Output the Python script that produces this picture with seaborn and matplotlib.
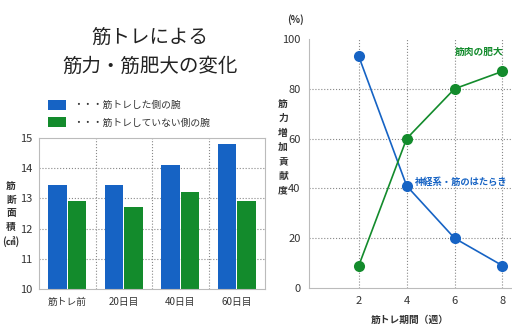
import matplotlib
matplotlib.use("Agg")
import matplotlib.pyplot as plt
import seaborn as sns
import pandas as pd

# ---- data ----
bar_categories = ["筋トレ前", "20日目", "40日目", "60日目"]
trained_arm = [13.45, 13.45, 14.1, 14.8]
untrained_arm = [12.9, 12.7, 13.2, 12.9]
bar_series = ["・・・筋トレした側の腕", "・・・筋トレしていない側の腕"]
bar_yticks = [10, 11, 12, 13, 14, 15]

weeks = [2, 4, 6, 8]
neural = [93, 41, 20, 9]
hypertrophy = [9, 60, 80, 87]
line_yticks = [0, 20, 40, 60, 80, 100]
line_xticks = [2, 4, 6, 8]

BLUE = "#1663c4"
GREEN = "#138b2c"

sns.set_style("white")
plt.rcParams["font.family"] = ["Noto Sans CJK JP", "DejaVu Sans"]

fig = plt.figure(figsize=(5.12, 3.28), dpi=100)

# ---- bar chart ----
ax1 = fig.add_axes([39/512, 1-289/328, (265-39)/512, (289-138)/328])
df = pd.DataFrame({
    "cat": bar_categories * 2,
    "val": trained_arm + untrained_arm,
    "series": [bar_series[0]] * 4 + [bar_series[1]] * 4,
})
sns.barplot(data=df, x="cat", y="val", hue="series", ax=ax1,
            palette=[BLUE, GREEN], width=0.68, gap=0.04, saturation=1,
            edgecolor="none")
ax1.set_ylim(10, 15)
ax1.set_xlim(-0.5, 3.5)
ax1.set_yticks(bar_yticks)
ax1.set_xlabel("")
ax1.set_ylabel("")
for y in bar_yticks[1:-1]:
    ax1.axhline(y, color="#888888", lw=0.8, ls=":", zorder=0)
for x in [0.5, 1.5, 2.5]:
    ax1.axvline(x, color="#888888", lw=0.8, ls=":", zorder=0)
for s in ax1.spines.values():
    s.set_color("#bbbbbb")
    s.set_linewidth(0.8)
ax1.tick_params(axis="y", length=0, labelsize=8, labelcolor="#333333", pad=5)
ax1.tick_params(axis="x", length=0, labelsize=7, labelcolor="#333333", pad=6)
handles, labels = ax1.get_legend_handles_labels()
ax1.get_legend().remove()
fig.legend(handles, labels, loc="upper left",
           bbox_to_anchor=(43/512, 1-95/328), frameon=False,
           fontsize=7, handlelength=1.85, handleheight=1.2,
           labelspacing=0.75, handletextpad=0.7, borderpad=0,
           labelcolor="#333333")
fig.text(150/512, 1-52/328, "筋トレによる\n筋力・筋肥大の変化", ha="center",
         va="center", fontsize=14, color="#222222", linespacing=1.5)
fig.text(11/512, 1-214/328, "筋\n断\n面\n積\n(㎠)", ha="center", va="center",
         fontsize=7, fontweight="bold", color="#333333", linespacing=1.45)

# ---- line chart ----
ax2 = fig.add_axes([309/512, 1-288/328, (512-309)/512, (288-39)/328])
ldf = pd.DataFrame({"week": weeks * 2, "pct": neural + hypertrophy,
                    "kind": ["neural"] * 4 + ["hyper"] * 4})
sns.lineplot(data=ldf, x="week", y="pct", hue="kind",
             palette={"neural": BLUE, "hyper": GREEN}, marker="o",
             markersize=8, markeredgecolor="none", lw=1.2, ax=ax2,
             legend=False, zorder=3, clip_on=False)
ax2.set_xlim(-0.08, 8.4)
ax2.set_ylim(0, 100)
ax2.set_xticks(line_xticks)
ax2.set_yticks(line_yticks)
ax2.set_xlabel("")
ax2.set_ylabel("")
for y in line_yticks[1:-1]:
    ax2.axhline(y, color="#888888", lw=0.8, ls=":", zorder=0)
for x in line_xticks:
    ax2.axvline(x, color="#888888", lw=0.8, ls=":", zorder=0)
ax2.spines["top"].set_visible(False)
ax2.spines["right"].set_visible(False)
for s in ["left", "bottom"]:
    ax2.spines[s].set_color("#bbbbbb")
    ax2.spines[s].set_linewidth(0.8)
ax2.tick_params(axis="both", length=0, labelsize=8, labelcolor="#333333", pad=6)
ax2.text(6.0, 95, "筋肉の肥大", color=GREEN, fontsize=7,
         fontweight="bold", va="center", ha="left")
ax2.text(4.35, 42.5, "神経系・筋のはたらき", color=BLUE, fontsize=6.7,
         fontweight="bold", va="center", ha="left", clip_on=False)
fig.text(296/512, 1-20/328, "(%)", ha="center", va="center", fontsize=7,
         fontweight="bold", color="#333333")
fig.text(283/512, 1-147/328, "筋\n力\n増\n加\n貢\n献\n度", ha="center",
         va="center", fontsize=7, fontweight="bold", color="#333333",
         linespacing=1.55)
fig.text(410/512, 1-320/328, "筋トレ期間（週）", ha="center", va="center",
         fontsize=7, fontweight="bold", color="#333333")

fig.savefig("out.png", dpi=100)
